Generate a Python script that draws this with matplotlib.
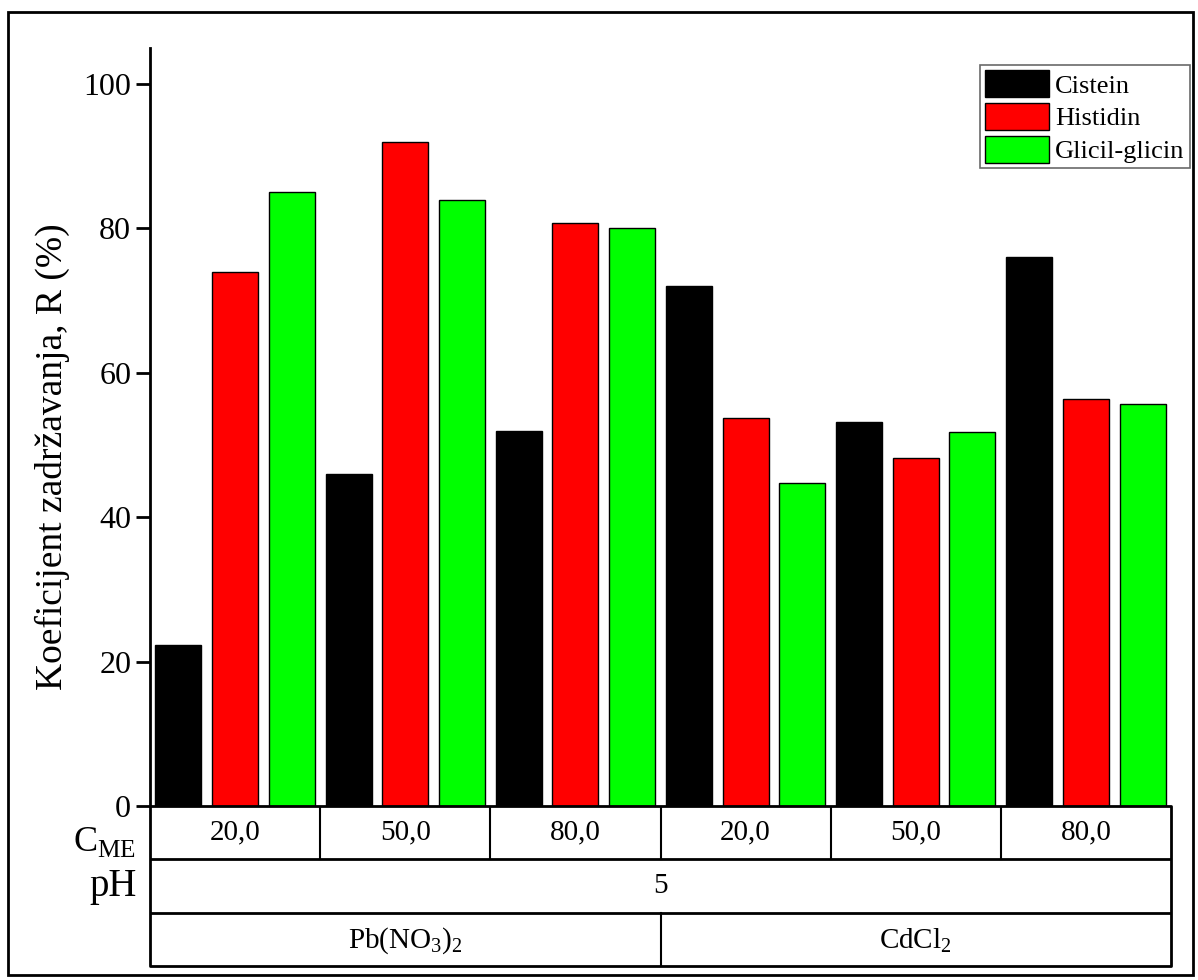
import matplotlib.pyplot as plt
from matplotlib.patches import Rectangle
import numpy as np

plt.rcParams['font.family'] = ['Liberation Serif', 'DejaVu Serif']
plt.rcParams['mathtext.fontset'] = 'custom'
plt.rcParams['mathtext.rm'] = 'Liberation Serif'

# podaci
series = ['Cistein', 'Histidin', 'Glicil-glicin']
colors = ['#000000', '#ff0000', '#00ff00']
c_me = ['20,0', '50,0', '80,0', '20,0', '50,0', '80,0']
ph = ['5']
salts = ['Pb(NO$_3$)$_2$', 'CdCl$_2$']
cistein = [22.3, 46.0, 52.0, 72.0, 53.2, 76.0]
histidin = [74.0, 92.0, 80.8, 53.7, 48.2, 56.4]
glicil = [85.0, 84.0, 80.0, 44.8, 51.8, 55.7]
values = [cistein, histidin, glicil]

W, H = 1198, 980
fig = plt.figure(figsize=(W / 100, H / 100), dpi=100)
ax = fig.add_axes([150 / W, 1 - 806 / H, 1021 / W, 758 / H])
tab = fig.add_axes([150 / W, 1 - 966 / H, 1021 / W, 160 / H])

x = np.arange(len(c_me))
for i, (name, vals) in enumerate(zip(series, values)):
    ax.bar(x + (i - 1) / 3, vals, width=0.27, color=colors[i],
           edgecolor='black', linewidth=1, label=name)

ax.set_xlim(-0.5, 5.5)
ax.set_ylim(0, 105)
ax.set_yticks([0, 20, 40, 60, 80, 100])
ax.tick_params(axis='y', labelsize=23, length=10, width=2, direction='out')
ax.set_xticks([])
for s in ['top', 'right', 'bottom']:
    ax.spines[s].set_visible(False)
ax.spines['left'].set_linewidth(2)
fig.text(52 / W, 1 - 457 / H, 'Koeficijent zadržavanja, R (%)', rotation=90,
         ha='center', va='center', fontsize=27)

leg = ax.legend(loc='upper right', bbox_to_anchor=(1040 / 1021, 1 - 17 / 758),
                fontsize=19, frameon=True, fancybox=False, handlelength=2.4,
                handleheight=1.2, handletextpad=0.25, borderpad=0.2,
                labelspacing=0.2, borderaxespad=0)
leg.get_frame().set_edgecolor('#444444')
leg.get_frame().set_linewidth(1.2)

# tablica ispod osi
tab.set_xlim(-0.5, 5.5)
tab.set_ylim(0, 3)
tab.axis('off')
lw = 2
tab.plot([-0.5, 5.5, 5.5, -0.5, -0.5], [3, 3, 0, 0, 3], color='black', lw=lw,
         clip_on=False)
tab.plot([-0.5, 5.5], [2, 2], color='black', lw=lw)
tab.plot([-0.5, 5.5], [1, 1], color='black', lw=lw)
for b in np.arange(0.5, 5, 1):
    tab.plot([b, b], [2, 3], color='black', lw=1.5)
tab.plot([2.5, 2.5], [0, 1], color='black', lw=1.5)
for xi, lab in zip(x, c_me):
    tab.text(xi, 2.5, lab, ha='center', va='center', fontsize=21)
tab.text(2.5, 1.5, ph[0], ha='center', va='center', fontsize=21)
tab.text(1.0, 0.47, salts[0], ha='center', va='center', fontsize=21)
tab.text(4.0, 0.47, salts[1], ha='center', va='center', fontsize=21)
tab.text(-0.58, 2.0, 'C$_{\\mathrm{ME}}$', ha='right', va='bottom', fontsize=26)
tab.text(-0.58, 1.5, 'pH', ha='right', va='center', fontsize=28)

fig.patches.append(Rectangle((8 / W, 1 - 975 / H), 1185 / W, 963 / H,
                             transform=fig.transFigure, fill=False,
                             edgecolor='black', linewidth=2))

fig.savefig('out.png', dpi=100)
